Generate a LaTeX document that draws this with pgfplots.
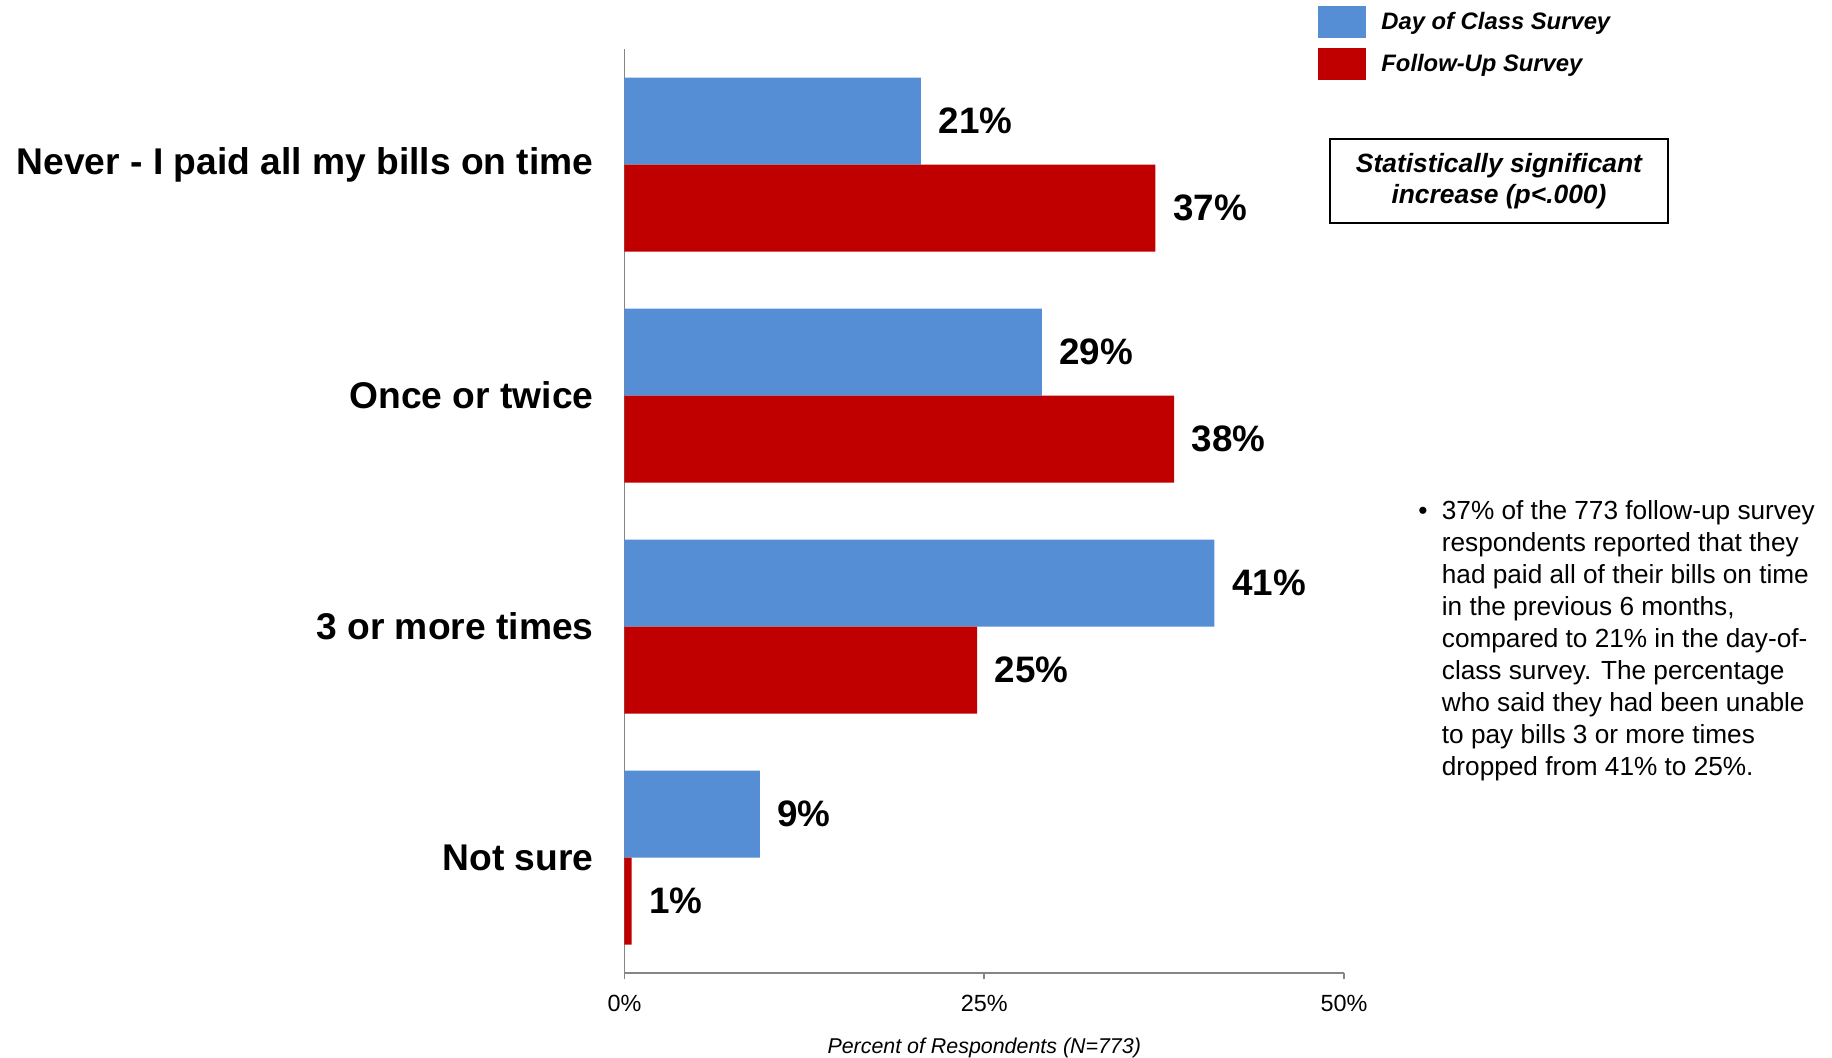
\documentclass[border=0pt]{standalone}
\usepackage{fontspec}
\setmainfont{Liberation Sans}
\usepackage{pgfplots}
\pgfplotsset{compat=1.18}
\definecolor{blueC}{RGB}{85,142,213}
\definecolor{redC}{RGB}{192,0,0}
\definecolor{axisgray}{RGB}{134,134,134}
\begin{document}
\begin{tikzpicture}
\useasboundingbox (-312.25pt,-42pt) rectangle (603.75pt,486.5pt);
\begin{axis}[
  at={(0pt,0pt)}, anchor=south west,
  scale only axis, width=359.75pt, height=462pt,
  xbar, bar width=0.3766,
  xmin=0, xmax=50, ymin=-0.5, ymax=3.5,
  y dir=reverse, clip=false,
  axis x line*=bottom, axis y line*=left,
  axis line style={draw=axisgray, line width=0.8pt, -},
  xtick={0,25,50}, xticklabels={0\%,25\%,50\%},
  ytick={0,1,2,3},
  yticklabels={Never - I paid all my bills on time, Once or twice, 3 or more times, Not sure},
  tick align=outside, major tick length=3pt,
  x tick style={draw=axisgray, line width=0.8pt},
  y tick style={draw=none},
  xticklabel style={font=\fontsize{11.7}{14}\selectfont, inner sep=0pt, anchor=base, yshift=-16.1pt},
  yticklabel style={font=\fontsize{18.6}{22}\selectfont\bfseries, inner sep=0pt, anchor=east, xshift=-12.3pt},
  xlabel={Percent of Respondents (N=773)},
  xlabel style={at={(axis description cs:0.5,0)}, anchor=base, inner sep=0pt, yshift=-40.4pt, font=\fontsize{10.7}{13}\selectfont\itshape},
  point meta=explicit symbolic,
  nodes near coords={\pgfplotspointmeta},
  nodes near coords style={anchor=west, inner sep=0pt, xshift=8.65pt, font=\fontsize{18.4}{22}\selectfont\bfseries, text=black},
  legend style={at={(axis description cs:0.9639,1.0465)}, anchor=north west, draw=none, fill=none, inner sep=0pt, row sep=5pt,
    font=\fontsize{11.9}{14}\selectfont\bfseries\itshape, nodes={inner sep=0pt, anchor=west},
    /tikz/every odd column/.append style={column sep=7.5pt}},
  legend cell align=left,
  legend image code/.code={\fill[#1] (0pt,-8pt) rectangle (24pt,8pt);},
]
\addplot[fill=blueC, draw=none, bar shift=-0.1883] coordinates {(20.6,0) [21\%] (29.0,1) [29\%] (41.0,2) [41\%] (9.4,3) [9\%]};
\addlegendentry{Day of Class Survey}
\addplot[fill=redC, draw=none, bar shift=0.1883] coordinates {(36.9,0) [37\%] (38.2,1) [38\%] (24.5,2) [25\%] (0.5,3) [1\%]};
\addlegendentry{Follow-Up Survey}
\end{axis}
\begin{scope}[x=0.5pt,y=-0.5pt,shift={(-624.5,-973)}]
\node[draw=black, line width=1pt, minimum width=168.75pt, minimum height=42pt, align=center, inner sep=0pt,
  font=\fontsize{13.2}{15.75}\selectfont\bfseries\itshape] at (1499,181) {Statistically significant\\increase (p<.000)};
\begin{scope}[every node/.style={anchor=base west, inner sep=0pt, font=\fontsize{13.1}{15.9}\selectfont}]
\node[anchor=base] at (1423,519.8) {•};
\node at (1441.5,519.8) {37\% of the 773 follow-up survey};
\node at (1441.5,551.8) {respondents reported that they};
\node at (1441.5,583.8) {had paid all of their bills on time};
\node at (1441.5,615.8) {in the previous 6 months,};
\node at (1441.5,647.8) {compared to 21\% in the day-of-};
\node at (1441.5,679.8) {class survey. The percentage};
\node at (1441.5,711.8) {who said they had been unable};
\node at (1441.5,743.8) {to pay bills 3 or more times};
\node at (1441.5,775.8) {dropped from 41\% to 25\%.};
\end{scope}
\end{scope}
\end{tikzpicture}
\end{document}
